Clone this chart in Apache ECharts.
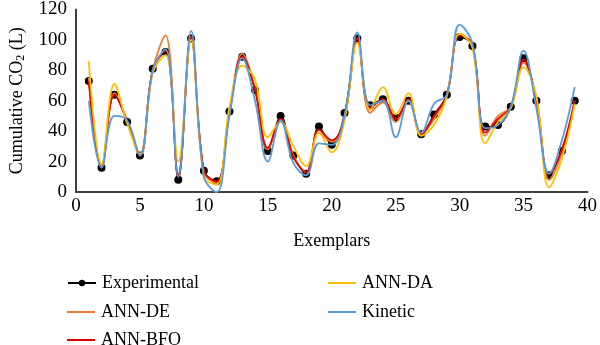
<!DOCTYPE html>
<html>
<head>
<meta charset="utf-8">
<script src="https://cdn.jsdelivr.net/npm/echarts@6/dist/echarts.min.js"></script>
<style>html,body{margin:0;padding:0;background:#fff}#c{width:600px;height:345px}</style>
</head>
<body>
<div id="c"></div>
<script>
const exemplars = Array.from({length: 39}, (_, i) => i + 1);
const experimental = [73,16,64,46,24,81,92,8,101,14,7,53,89,67,27,50,24,12,43,31,52,101,57,61,49,60,38,51,64,102,96,43,44,56,88,60,11,27,60];
const annDE  = [75,17,65,46,25,80,103,12,102,13,6,52,91,68,28,47,24,13,39,33,50,101,52,59,46,60,38,48,64,104,96,37,50,56,85,62,8,26,60];
const annBFO = [73,16,64,47,24,80,93,11,102,14,7,52,89,67,29,48,23,13,41,34,49,101,55,61,48,61,38,50,64,103,97,39,48,56,87,60,12,28,60];
const annDA  = [86,18,71,45,25,78,90,20,100,10,5,56,83,74,36,46,30,17,39,26,47,98,54,69,51,65,37,44,63,104,95,32,46,55,82,63,3,22,58];
const kinetic = [60,16,50,47,24,80,94,10,106,10,0,50,88,60,20,47,19,11,32,31,50,105,57,60,36,60,39,58,64,110,98,42,44,56,93,55,12,34,69];
const xTicks = [0,5,10,15,20,25,30,35,40];
const yTicks = [0,20,40,60,80,100,120];

const font = 'Liberation Serif';
const pair = arr => exemplars.map((x, i) => [x, arr[i]]);
const lineSeries = (name, data, color, z) => ({
  name, type: 'line', data: pair(data), smooth: 0.4, symbol: 'none', z,
  lineStyle: {color, width: 1.8}, itemStyle: {color}
});
const legendText = {fontFamily: font, fontSize: 18, color: '#000', lineHeight: 20, padding: [0,0,0,1]};
const legendItem = (name, left, cy, withDot) => ({
  data: [name], left, top: cy - 14, itemGap: 0,
  itemWidth: 28, itemHeight: withDot ? 8 : 2,
  icon: withDot ? undefined : 'rect',
  textStyle: legendText
});

const chart = echarts.init(document.getElementById('c'), null, {renderer: 'canvas'});
chart.setOption({
  animation: false,
  backgroundColor: '#fff',
  textStyle: {fontFamily: font},
  grid: {left: 70, right: 9, top: 7.5, bottom: 153},
  xAxis: {
    type: 'value', min: xTicks[0], max: xTicks[xTicks.length-1], interval: 5,
    name: 'Exemplars', nameLocation: 'middle', nameGap: 40,
    nameTextStyle: {fontFamily: font, fontSize: 18, color: '#000'},
    axisLine: {lineStyle: {color: '#404040', width: 2}},
    axisTick: {show: false}, splitLine: {show: false},
    axisLabel: {fontFamily: font, fontSize: 19, color: '#000', margin: 5}
  },
  yAxis: {
    type: 'value', min: yTicks[0], max: yTicks[yTicks.length-1], interval: 20,
    name: 'Cumulative CO{sub|2} (L)', nameLocation: 'middle', nameGap: 50, nameRotate: 90,
    nameTextStyle: {fontFamily: font, fontSize: 18, color: '#000',
      rich: {sub: {fontFamily: font, fontSize: 12, color: '#000', padding: [0, 0, -8, 0]}}},
    axisLine: {show: true, lineStyle: {color: '#404040', width: 2}},
    axisTick: {show: false}, splitLine: {show: false},
    axisLabel: {fontFamily: font, fontSize: 19, color: '#000', margin: 9}
  },
  legend: [
    legendItem('Experimental', 62, 282, true),
    legendItem('ANN-DE', 62, 311, false),
    legendItem('ANN-BFO', 62, 339, false),
    legendItem('ANN-DA', 323, 282, false),
    legendItem('Kinetic', 323, 311, false)
  ],
  series: [
    {name: 'Experimental', type: 'line', data: pair(experimental), smooth: 0.4, z: 1,
     symbol: 'circle', symbolSize: 8, showSymbol: true,
     lineStyle: {color: '#000', width: 1.2}, itemStyle: {color: '#000'}},
    lineSeries('ANN-DE', annDE, '#ED7D31', 2),
    lineSeries('ANN-BFO', annBFO, '#E00000', 3),
    lineSeries('ANN-DA', annDA, '#FFC000', 4),
    lineSeries('Kinetic', kinetic, '#5B9BD5', 5)
  ]
});
</script>
</body>
</html>
